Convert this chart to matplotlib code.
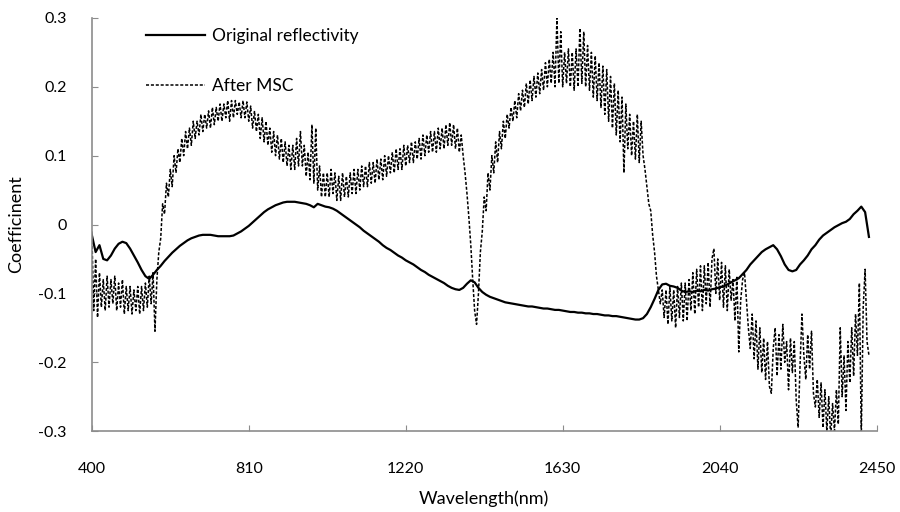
import numpy as np
import matplotlib.pyplot as plt

# wavelengths (nm)
wl_orig = np.arange(400, 2431, 10)
wl_msc = np.arange(400, 2431, 5)

# original reflectivity coefficient, every 10 nm
orig = [
    -0.015, -0.040, -0.030, -0.050, -0.052, -0.045, -0.035, -0.028, -0.025, -0.027,
    -0.035, -0.045, -0.055, -0.066, -0.075, -0.079, -0.073, -0.066, -0.060, -0.053,
    -0.047, -0.041, -0.036, -0.031, -0.027, -0.023, -0.020, -0.018, -0.016, -0.015,
    -0.015, -0.015, -0.016, -0.017, -0.017, -0.017, -0.017, -0.016, -0.013, -0.010,
    -0.006, -0.002, 0.003, 0.008, 0.013, 0.018, 0.022, 0.025, 0.028, 0.030,
    0.032, 0.033, 0.033, 0.033, 0.032, 0.031, 0.030, 0.028, 0.025, 0.030,
    0.028, 0.026, 0.025, 0.023, 0.020, 0.016, 0.012, 0.008, 0.004, 0.000,
    -0.004, -0.009, -0.013, -0.017, -0.021, -0.025, -0.030, -0.034, -0.037, -0.041,
    -0.045, -0.048, -0.052, -0.055, -0.058, -0.062, -0.066, -0.069, -0.073, -0.076,
    -0.079, -0.082, -0.085, -0.089, -0.092, -0.094, -0.095, -0.092, -0.086, -0.081,
    -0.084, -0.092, -0.098, -0.102, -0.105, -0.107, -0.109, -0.111, -0.113, -0.114,
    -0.115, -0.116, -0.117, -0.118, -0.119, -0.119, -0.120, -0.121, -0.122, -0.122,
    -0.123, -0.124, -0.124, -0.125, -0.126, -0.127, -0.127, -0.128, -0.128, -0.129,
    -0.129, -0.130, -0.130, -0.131, -0.132, -0.132, -0.133, -0.133, -0.134, -0.135,
    -0.136, -0.137, -0.138, -0.138, -0.136, -0.130, -0.120, -0.108, -0.095, -0.087,
    -0.086, -0.089, -0.090, -0.092, -0.096, -0.098, -0.097, -0.098, -0.096, -0.097,
    -0.095, -0.096, -0.094, -0.093, -0.091, -0.090, -0.087, -0.084, -0.081, -0.078,
    -0.072, -0.066, -0.058, -0.052, -0.046, -0.040, -0.036, -0.033, -0.030, -0.036,
    -0.046, -0.058, -0.066, -0.068, -0.066, -0.058, -0.052, -0.045, -0.036, -0.030,
    -0.022, -0.016, -0.012, -0.008, -0.004, -0.001, 0.002, 0.004, 0.008, 0.015,
    0.020, 0.026, 0.018, -0.018,
]

# after MSC coefficient, every 5 nm
msc = [
    # 400-495
    -0.010, -0.125, -0.050, -0.135, -0.070, -0.120, -0.080, -0.125, -0.075, -0.120,
    -0.080, -0.115, -0.075, -0.125, -0.085, -0.120, -0.080, -0.130, -0.090, -0.125,
    # 500-595
    -0.090, -0.130, -0.095, -0.125, -0.090, -0.130, -0.090, -0.125, -0.085, -0.120,
    -0.075, -0.115, -0.070, -0.155, -0.080, -0.040, -0.020, 0.030, 0.015, 0.060,
    # 600-695
    0.040, 0.080, 0.055, 0.100, 0.075, 0.110, 0.090, 0.125, 0.100, 0.135,
    0.110, 0.140, 0.115, 0.150, 0.125, 0.150, 0.130, 0.160, 0.135, 0.160,
    # 700-795
    0.140, 0.165, 0.140, 0.170, 0.145, 0.170, 0.150, 0.175, 0.150, 0.175,
    0.155, 0.180, 0.150, 0.180, 0.155, 0.180, 0.160, 0.178, 0.155, 0.180,
    # 800-895
    0.155, 0.178, 0.150, 0.172, 0.140, 0.165, 0.135, 0.160, 0.125, 0.155,
    0.120, 0.150, 0.115, 0.140, 0.105, 0.135, 0.100, 0.130, 0.095, 0.125,
    # 900-995
    0.090, 0.120, 0.085, 0.115, 0.080, 0.115, 0.080, 0.125, 0.085, 0.135,
    0.085, 0.115, 0.070, 0.105, 0.065, 0.145, 0.060, 0.140, 0.050, 0.085,
    # 1000-1095
    0.040, 0.075, 0.040, 0.075, 0.040, 0.080, 0.045, 0.075, 0.035, 0.070,
    0.035, 0.075, 0.040, 0.070, 0.040, 0.075, 0.045, 0.080, 0.045, 0.080,
    # 1100-1195
    0.050, 0.085, 0.055, 0.085, 0.055, 0.090, 0.060, 0.090, 0.060, 0.095,
    0.065, 0.095, 0.065, 0.100, 0.070, 0.100, 0.075, 0.105, 0.075, 0.110,
    # 1200-1295
    0.080, 0.110, 0.080, 0.115, 0.085, 0.115, 0.090, 0.120, 0.090, 0.120,
    0.095, 0.125, 0.095, 0.130, 0.100, 0.130, 0.105, 0.135, 0.105, 0.135,
    # 1300-1395
    0.105, 0.140, 0.110, 0.140, 0.110, 0.145, 0.115, 0.148, 0.115, 0.145,
    0.110, 0.140, 0.105, 0.130, 0.100, 0.075, 0.045, 0.010, -0.030, -0.080,
    # 1400-1495
    -0.125, -0.145, -0.100, -0.040, -0.010, 0.040, 0.020, 0.075, 0.050, 0.100,
    0.075, 0.120, 0.090, 0.135, 0.110, 0.150, 0.125, 0.160, 0.140, 0.170,
    # 1500-1595
    0.150, 0.180, 0.155, 0.190, 0.165, 0.195, 0.170, 0.205, 0.175, 0.210,
    0.180, 0.215, 0.185, 0.220, 0.190, 0.225, 0.195, 0.235, 0.200, 0.240,
    # 1600-1695
    0.205, 0.250, 0.200, 0.300, 0.205, 0.280, 0.200, 0.250, 0.205, 0.255,
    0.200, 0.250, 0.195, 0.255, 0.200, 0.285, 0.205, 0.280, 0.200, 0.260,
    # 1700-1795
    0.195, 0.250, 0.185, 0.245, 0.180, 0.235, 0.170, 0.230, 0.160, 0.225,
    0.150, 0.215, 0.140, 0.205, 0.130, 0.195, 0.120, 0.185, 0.075, 0.175,
    # 1800-1895
    0.110, 0.160, 0.100, 0.150, 0.095, 0.160, 0.090, 0.150, 0.100, 0.080,
    0.055, 0.030, 0.020, -0.015, -0.040, -0.075, -0.095, -0.115, -0.095, -0.135,
    # 1900-1995
    -0.095, -0.145, -0.090, -0.140, -0.095, -0.150, -0.090, -0.135, -0.085, -0.140,
    -0.085, -0.140, -0.080, -0.125, -0.070, -0.130, -0.065, -0.120, -0.060, -0.125,
    # 2000-2095
    -0.060, -0.115, -0.055, -0.120, -0.050, -0.035, -0.100, -0.050, -0.110, -0.055,
    -0.120, -0.060, -0.125, -0.065, -0.110, -0.080, -0.140, -0.075, -0.185, -0.110,
    # 2100-2195
    -0.080, -0.070, -0.110, -0.150, -0.180, -0.130, -0.195, -0.140, -0.210, -0.150,
    -0.215, -0.165, -0.225, -0.170, -0.235, -0.245, -0.180, -0.150, -0.220, -0.160,
    # 2200-2295
    -0.210, -0.145, -0.200, -0.170, -0.240, -0.165, -0.215, -0.170, -0.255, -0.295,
    -0.205, -0.130, -0.190, -0.225, -0.160, -0.210, -0.155, -0.245, -0.265, -0.225,
    # 2300-2395
    -0.280, -0.230, -0.295, -0.240, -0.300, -0.250, -0.310, -0.260, -0.300, -0.240,
    -0.290, -0.150, -0.250, -0.190, -0.270, -0.170, -0.230, -0.150, -0.220, -0.130,
    # 2400-2430
    -0.190, -0.085, -0.310, -0.120, -0.065, -0.170, -0.190,
]

xticks = [400, 810, 1220, 1630, 2040, 2450]
yticks = [-0.3, -0.2, -0.1, 0, 0.1, 0.2, 0.3]
ytick_labels = ['-0.3', '-0.2', '-0.1', '0', '0.1', '0.2', '0.3']

plt.rcParams['font.family'] = ['Lato', 'DejaVu Sans']

fig = plt.figure(figsize=(9, 5.12), dpi=100)
ax = fig.add_axes([0.102, 0.158, 0.872, 0.807])

ax.plot(wl_orig, orig, color='black', lw=1.6, label='Original reflectivity')
ax.plot(wl_msc, msc, color='black', lw=1.1, linestyle=(0, (2.0, 1.2)), label='After MSC')

ax.set_xlim(400, 2450)
ax.set_ylim(-0.3, 0.3)
ax.set_xticks(xticks)
ax.set_xticklabels([str(t) for t in xticks])
ax.set_yticks(yticks)
ax.set_yticklabels(ytick_labels)

for s in ['top', 'right']:
    ax.spines[s].set_visible(False)
for s in ['left', 'bottom']:
    ax.spines[s].set_color('#8c8c8c')
    ax.spines[s].set_linewidth(1.2)

ax.tick_params(axis='y', direction='in', length=4, color='#8c8c8c', labelsize=11.5, pad=18)
ax.tick_params(axis='x', direction='in', length=4, color='#8c8c8c', labelsize=11.5, pad=22)

ax.set_xlabel('Wavelength(nm)', fontsize=13, labelpad=11)
ax.set_ylabel('Coefficinent', fontsize=13, labelpad=10)

ax.legend(loc='upper left', bbox_to_anchor=(0.069, 0.975), frameon=False,
          fontsize=12.5, handlelength=3.4, labelspacing=1.95, borderpad=0,
          borderaxespad=0, handletextpad=0.4)

fig.savefig('out.png', dpi=100)
